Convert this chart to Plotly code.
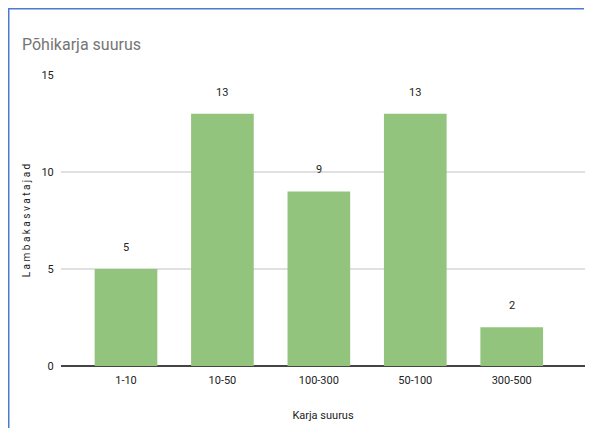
import plotly.graph_objects as go

categories = ["1-10", "10-50", "100-300", "50-100", "300-500"]
values = [5, 13, 9, 13, 2]
y_ticks = [0, 5, 10, 15]

FONT = "Roboto, Arial, sans-serif"

fig = go.Figure()
fig.add_trace(go.Bar(
    x=categories, y=values,
    marker=dict(color="#93c47d", line=dict(width=0)),
    hoverinfo="x+y",
))

annotations = [
    dict(x=c, y=v, xref="x", yref="y", text=str(v), showarrow=False,
         yanchor="bottom", yshift=13, font=dict(family=FONT, size=11, color="#222222"))
    for c, v in zip(categories, values)
]

# the page adds an 8px body margin; figure is sized to fit inside the window
W, H = 577, 420
ml, mr, mt, mb = 53, 0, 67, 62
pw, ph = W - ml - mr, H - mt - mb


def px_x(p):
    return (p - ml) / pw


def px_y(p):
    return (H - mb - p) / ph


frame_path = "M {x1},{y0} L {x0},{y0} L {x0},{y1}".format(
    x0=0.5, y0=0.5, x1=W, y1=H)

fig.update_layout(
    width=W, height=H,
    margin=dict(l=ml, r=mr, t=mt, b=mb, pad=0),
    paper_bgcolor="white", plot_bgcolor="white",
    bargap=0.35,
    showlegend=False,
    font=dict(family=FONT, size=11, color="#222222"),
    title=dict(text="Põhikarja suurus", x=14 / W, xanchor="left", y=1 - 36 / H, yanchor="middle",
               font=dict(family=FONT, size=16, color="#757575")),
    annotations=annotations,
    shapes=[
        dict(type="line", xref="paper", yref="paper", x0=px_x(0), x1=px_x(W - 1),
             y0=px_y(0.5), y1=px_y(0.5), line=dict(color="#4a7bd0", width=2)),
        dict(type="line", xref="paper", yref="paper", x0=px_x(0.5), x1=px_x(0.5),
             y0=px_y(0), y1=px_y(H), line=dict(color="#4a7bd0", width=2)),
    ],
    xaxis=dict(
        type="category", range=[-0.674, 4.76],
        showgrid=False, showline=False, zeroline=False,
        ticks="outside", ticklen=4, tickcolor="rgba(0,0,0,0)",
        tickfont=dict(family=FONT, size=11, color="#222222"),
        title=dict(text="Karja suurus", standoff=25,
                   font=dict(family=FONT, size=11, color="#222222")),
    ),
    yaxis=dict(
        range=[0, 15], tickvals=y_ticks,
        showgrid=True, gridcolor="#e0e0e0", gridwidth=1.5,
        zeroline=True, zerolinecolor="#444444", zerolinewidth=1.5,
        showline=False,
        ticks="outside", ticklen=4, tickcolor="rgba(0,0,0,0)",
        tickfont=dict(family=FONT, size=11, color="#222222"),
        title=dict(text="L a m b a k a s v a t a j a d", standoff=8,
                   font=dict(family=FONT, size=10, color="#222222")),
    ),
)

fig.write_html("out.html", config={"displayModeBar": False})
